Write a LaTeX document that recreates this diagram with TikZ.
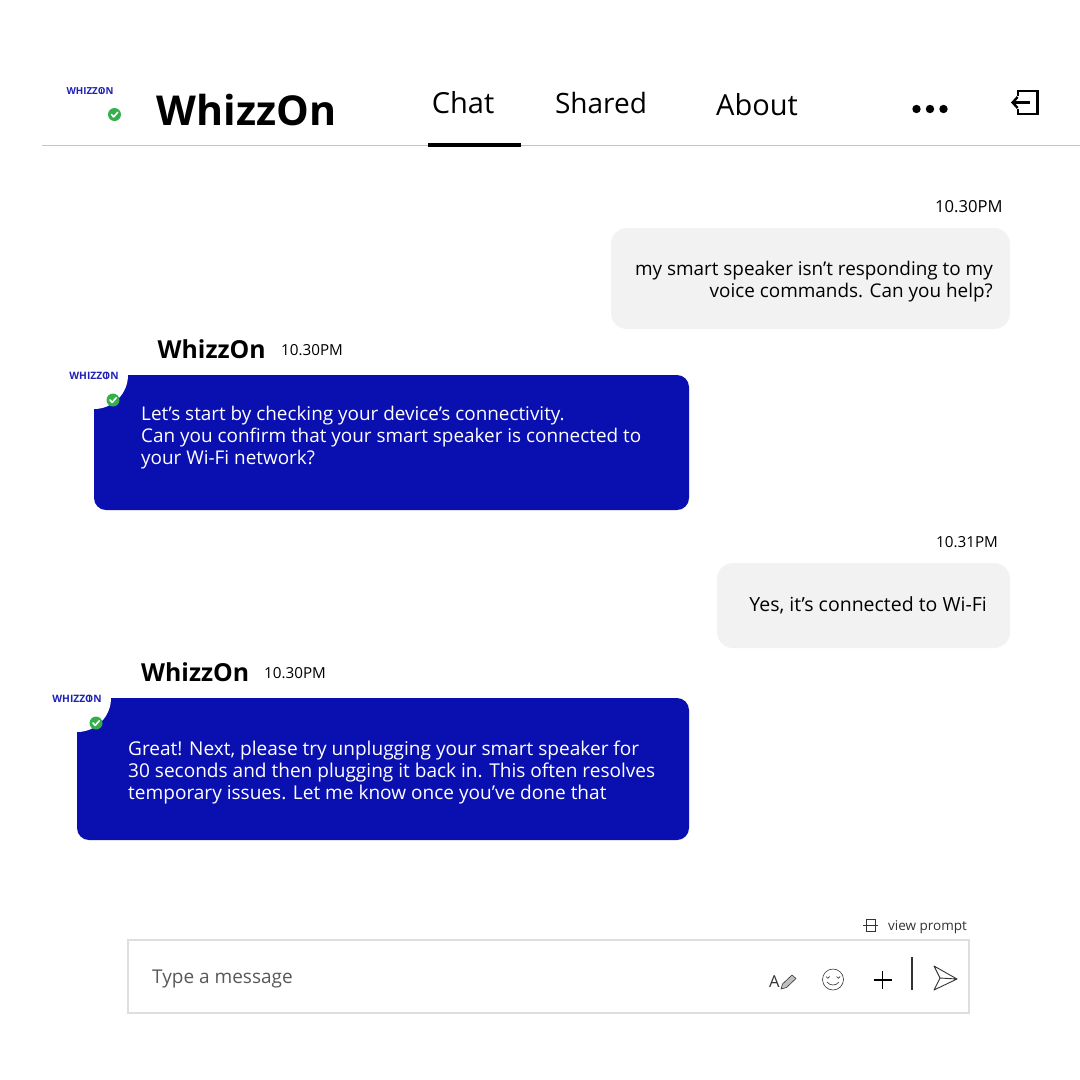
\documentclass[tikz,border=0pt]{standalone}
\usepackage{fontspec}
\setmainfont{Open Sans}
\usetikzlibrary{arrows.meta}
\definecolor{bluebub}{HTML}{0A0FAF}
\definecolor{greybub}{HTML}{F2F2F2}
\definecolor{logoblue}{HTML}{2020B8}
\definecolor{okgreen}{HTML}{34B04A}
\definecolor{rulegrey}{HTML}{C4C4C4}
\definecolor{boxgrey}{HTML}{DEDEDE}
\definecolor{iconink}{HTML}{333333}
\newcommand{\logotext}{WHIZZ\ooalign{O\cr\hfil\rule[0.12em]{0.7pt}{0.5em}\hfil\cr}N}
\tikzset{
  x=1pt,y=-1pt,
  tab/.style={anchor=base,font=\fontsize{29}{29}\selectfont,text=black,inner sep=0},
  name label/.style={anchor=base west,font=\fontsize{24.8}{25}\selectfont\bfseries,text=black,inner sep=0},
  time label/.style={anchor=base west,font=\fontsize{15.2}{15.2}\selectfont,text=black,inner sep=0},
  msg left/.style={inner sep=0,anchor=north west,align=left,text=white},
  msg right/.style={inner sep=0,anchor=north east,align=right,text=black},
  logo/.style={inner sep=0,font=\fontsize{10.2}{10.2}\selectfont\bfseries,text=logoblue},
  icon/.style={draw=iconink,line width=1pt,fill=none},
}
\newcommand{\okbadge}[2]{%
  \fill[okgreen] (#1,#2) circle (6.5);
  \draw[white,line width=1.6pt,line cap=round,line join=round] (#1-3,#2) -- (#1-0.8,#2+2.4) -- (#1+3.2,#2-2.2);
}
\begin{document}
\begin{tikzpicture}
\useasboundingbox (0,0) rectangle (1080,1080);
\fill[white] (0,0) rectangle (1080,1080);

% header
\node[logo,font=\fontsize{9.7}{9.7}\selectfont\bfseries] (logoA) at (90,91) {\logotext};
\okbadge{114.5}{114.5}
\node[anchor=base west,inner sep=0,font=\fontsize{41.2}{41.2}\selectfont\bfseries] (title) at (156.5,125) {WhizzOn};
\node[tab] (tabchat) at (463,113) {Chat};
\node[tab,font=\fontsize{28}{28}\selectfont] (tabshared) at (601,113) {Shared};
\node[tab] (tababout) at (757,115) {About};
\fill[black] (916.5,109) circle (4.2) (930,109) circle (4.2) (943.5,109) circle (4.2);
\draw[black,line width=2.4pt,line join=miter] (1018,96) -- (1018,91) -- (1037.5,91) -- (1037.5,114) -- (1018,114) -- (1018,109);
\draw[black,line width=2.4pt,-{Straight Barb[length=5pt,width=11pt,line width=2.4pt]}] (1030,102.5) -- (1011,102.5);
\draw[rulegrey,line width=1pt] (42,145.5) -- (1080,145.5);
\draw[black,line width=3.5pt] (428,145) -- (521,145);

% message 1
\node[time label,font=\fontsize{16.6}{16.6}\selectfont] (t1) at (935,212) {10.30PM};
\fill[greybub,rounded corners=16] (611,228) rectangle (1010,329);
\node[msg right,font=\fontsize{18.9}{22}\selectfont] (m1) at (993,261) {my smart speaker isn’t responding to my\\voice commands. Can you help?};

% reply 1
\node[name label] (n1) at (157.5,358) {WhizzOn};
\node[time label] (t2) at (281,355) {10.30PM};
\fill[bluebub,rounded corners=12] (94,375) rectangle (689,510);
\fill[bluebub] (94,375) rectangle (130,420);
\fill[white] (60,340) rectangle (94,409);
\fill[white] (94,340) rectangle (135,375);
\fill[bluebub,rounded corners=12] (110,375) rectangle (300,420);
\fill[white] (94,375) circle (34);
\fill[white] (94,340) rectangle (135,375);
\node[logo] (logoB) at (94,376) {\logotext};
\okbadge{113}{400}
\node[msg left,font=\fontsize{18.9}{22}\selectfont] (m2) at (141,406) {Let’s start by checking your device’s connectivity.\\Can you confirm that your smart speaker is connected to\\your Wi-Fi network?};

% message 2
\node[time label] (t3) at (936,547) {10.31PM};
\fill[greybub,rounded corners=16] (717,563) rectangle (1010,648);
\node[msg right,font=\fontsize{19.5}{22}\selectfont] (m3) at (987,596) {Yes, it’s connected to Wi-Fi};

% reply 2
\node[name label] (n2) at (141,681) {WhizzOn};
\node[time label] (t4) at (264,678) {10.30PM};
\fill[bluebub,rounded corners=12] (77,698) rectangle (689,840);
\fill[bluebub] (77,698) rectangle (113,745);
\fill[white] (40,663) rectangle (77,732);
\fill[white] (77,663) rectangle (118,698);
\fill[bluebub,rounded corners=12] (93,698) rectangle (300,745);
\fill[white] (77,698) circle (34);
\fill[white] (77,663) rectangle (118,698);
\node[logo] (logoC) at (77,699) {\logotext};
\okbadge{96}{723}
\node[msg left,font=\fontsize{19.05}{22}\selectfont] (m4) at (128,741) {Great! Next, please try unplugging your smart speaker for\\30 seconds and then plugging it back in. This often resolves\\temporary issues. Let me know once you’ve done that};

% input
\node[anchor=base west,inner sep=0,font=\fontsize{13.5}{13.5}\selectfont,text=iconink] (vp) at (888,930) {view prompt};
\draw[icon,line width=.8pt] (866,919.5) rectangle (875,931);
\draw[icon,line width=.8pt] (863,925.5) -- (878,925.5);
\draw[boxgrey,line width=2pt] (128,940) rectangle (969,1013);
\node[anchor=base west,inner sep=0,font=\fontsize{19}{19}\selectfont,text=black!65] (ph) at (152,983) {Type a message};
\node[anchor=base west,inner sep=0,font=\fontsize{16.5}{16.5}\selectfont,text=iconink] (fmt) at (769,987) {A};
\draw[iconink,line width=.6pt,fill=black!25] (781,989) -- (782.5,984) -- (792,975) -- (796,978.5) -- (786.5,987.5) -- cycle;
\draw[icon,line width=.6pt] (833,979.5) circle (10.5);
\draw[icon,line width=.6pt] (826,976.5) arc (180:0:1.8) (836.5,976.5) arc (180:0:1.8);
\draw[icon,line width=.6pt] (827,982) .. controls (830,986) and (836,986) .. (839,982);
\draw[icon,line width=1.4pt,black] (873.5,980) -- (892,980) (882.5,971) -- (882.5,989);
\draw[icon,line width=1.2pt] (912,957) -- (912,990);
\draw[icon,line width=.9pt,line join=round] (934,966) -- (957,979) -- (934,990) -- (940,978) -- cycle (940,978) -- (957,979);
\end{tikzpicture}
\end{document}
